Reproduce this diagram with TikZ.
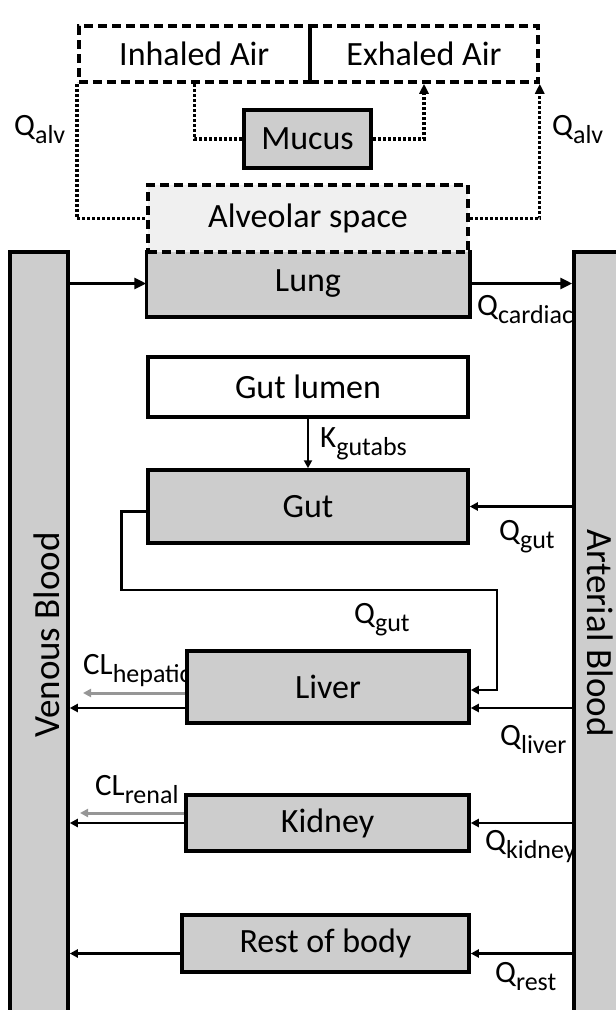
\documentclass[tikz,border=0pt]{standalone}
\usepackage{fontspec}
\setmainfont{Carlito}
\usetikzlibrary{arrows.meta}
\definecolor{organgray}{RGB}{205,205,205}
\definecolor{airgray}{RGB}{240,240,240}
\definecolor{clgray}{RGB}{150,150,150}
\newcommand{\boxfont}{\fontsize{34}{40}\selectfont}
\newcommand{\barfont}{\fontsize{37}{42}\selectfont}
\newcommand{\flowfont}{\fontsize{31}{36}\selectfont}
\newcommand{\flow}[2]{#1\raisebox{-8pt}{\fontsize{26}{30}\selectfont #2}}
\tikzset{
  organ/.style={draw,line width=3.5pt,fill=organgray,inner sep=0pt,font=\boxfont},
  airbox/.style={draw,line width=3.5pt,dash pattern=on 9pt off 5pt,inner sep=0pt,font=\boxfont},
  bar/.style={draw,line width=3.5pt,fill=organgray,inner sep=0pt,minimum width=58pt,minimum height=770pt},
  flowlabel/.style={anchor=base west,inner sep=0pt,font=\flowfont},
  blood/.style={-{Triangle[length=8pt,width=8pt]},line width=2.8pt},
  cardiac/.style={-{Triangle[length=12pt,width=11pt]},line width=3.2pt},
  airflow/.style={line width=3.2pt,dash pattern=on 3pt off 2pt},
  airhead/.style={-{Triangle[length=10pt,width=9pt]}},
  clear/.style={-{Triangle[length=8pt,width=8pt]},line width=3pt,draw=clgray,color=clgray}
}
\begin{document}
\begin{tikzpicture}[x=1pt,y=-1pt]
\useasboundingbox (0,0) rectangle (616,1010);
\clip (0,0) rectangle (616,1010);
\node[bar] (venous) at (39,637) {};
\node[bar] (arterial) at (603,637) {};
\node[rotate=90,font=\barfont] (venoustext) at (47,635) {Venous Blood};
\node[rotate=-90,font=\barfont] (arterialtext) at (600,633) {Arterial Blood};
\node[airbox,minimum width=231pt,minimum height=56pt] (inhaled) at (194.3,54) {Inhaled Air};
\node[airbox,minimum width=228pt,minimum height=56pt] (exhaled) at (424,54) {Exhaled Air};
\node[organ,minimum width=127pt,minimum height=58pt] (mucus) at (307.5,139) {Mucus};
\node[organ,draw=none,minimum width=320pt,minimum height=63pt] (lung) at (308,283.5) {Lung};
\draw[line width=3.5pt] (lung.north west) -- (lung.south west) -- (lung.south east) -- (lung.north east);
\node[airbox,fill=airgray,minimum width=320pt,minimum height=67pt] (alveolar) at (308,218.5) {Alveolar space};
\node[organ,fill=white,minimum width=320pt,minimum height=60pt] (lumen) at (308,387) {Gut lumen};
\node[organ,minimum width=320pt,minimum height=73pt] (gut) at (308,506.5) {Gut};
\node[flowlabel] (clhep) at (83,674) {\flow{CL}{hepatic}};
\node[flowlabel] (clren) at (95,795) {\flow{CL}{renal}};
\node[organ,minimum width=282pt,minimum height=72pt] (liver) at (328,687) {Liver};
\node[organ,minimum width=283pt,minimum height=56pt] (kidney) at (327.5,823) {Kidney};
\node[organ,minimum width=287pt,minimum height=57pt] (rest) at (325.5,943.5) {Rest of body};
\draw[airflow] (inhaled.south west) |- (alveolar.west);
\draw[airflow] (inhaled.south) |- (mucus.west);
\draw[airflow,airhead] (mucus.east) -| (exhaled.south);
\draw[airflow,airhead] (alveolar.east) -| (exhaled.south east);
\node[flowlabel] (qalvin) at (14,135) {\flow{Q}{alv}};
\node[flowlabel] (qalvout) at (552,135) {\flow{Q}{alv}};
\draw[cardiac] (venous.east |- lung.west) -- (lung.west);
\draw[cardiac] (lung.east) -- (arterial.west |- lung.east);
\node[flowlabel] (qcard) at (477,315) {\flow{Q}{cardiac}};
\draw[blood] (lumen.south) -- (gut.north);
\node[flowlabel] (kabs) at (320,447) {\flow{K}{gutabs}};
\draw[blood] (arterial.west |- gut.east) -- (gut.east);
\node[flowlabel] (qgutin) at (499,540) {\flow{Q}{gut}};
\draw[blood] ([yshift=-5pt]gut.west) -- ++(-25,0) |- (497,590) |- ([yshift=-3pt]liver.east);
\node[flowlabel] (qgutout) at (354,623) {\flow{Q}{gut}};
\coordinate (livin) at ([yshift=-21pt]liver.east);
\coordinate (livout) at ([yshift=-21pt]liver.west);
\coordinate (hepout) at (83,693);
\draw[blood] (arterial.west |- livin) -- (livin);
\draw[blood] (livout) -- (venous.east |- livout);
\draw[clear] ([yshift=-6pt]liver.west) -- (hepout);
\node[flowlabel] (qliver) at (500,745) {\flow{Q}{liver}};
\coordinate (renout) at (80,813);
\draw[blood] (arterial.west |- kidney.east) -- (kidney.east);
\draw[blood] (kidney.west) -- (venous.east |- kidney.west);
\draw[clear] ([yshift=10pt]kidney.west) -- (renout);
\node[flowlabel] (qkidney) at (485,850) {\flow{Q}{kidney}};
\coordinate (restin) at ([yshift=-10pt]rest.east);
\coordinate (restout) at ([yshift=-10pt]rest.west);
\draw[blood] (arterial.west |- restin) -- (restin);
\draw[blood] (restout) -- (venous.east |- restout);
\node[flowlabel] (qrest) at (495,982) {\flow{Q}{rest}};
\end{tikzpicture}
\end{document}
